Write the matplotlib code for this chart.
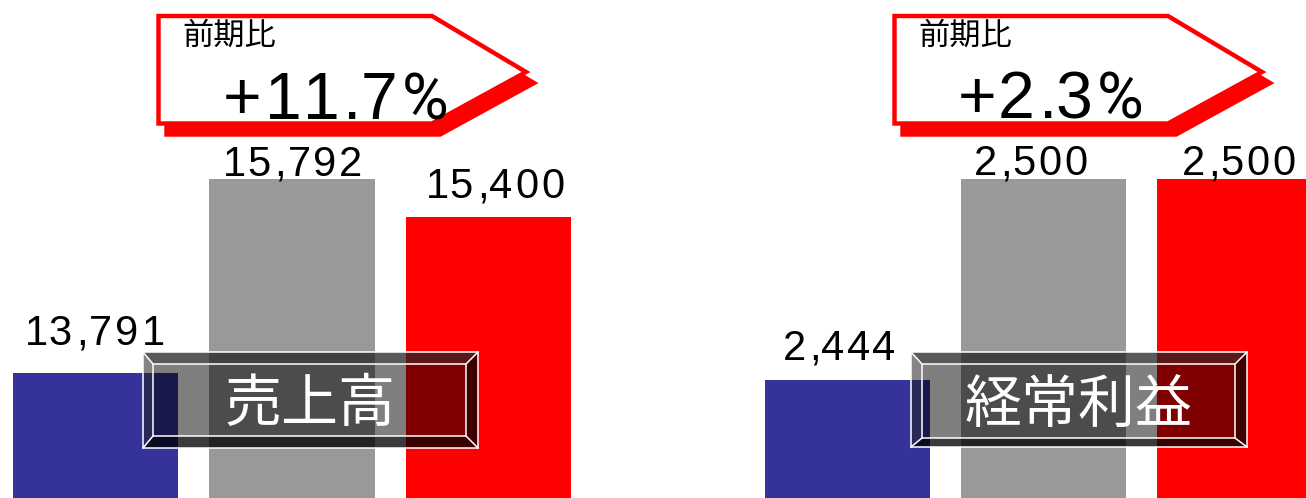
import matplotlib
matplotlib.use("Agg")
import matplotlib.pyplot as plt
from matplotlib.patches import Polygon
from matplotlib.font_manager import FontProperties, findfont
from matplotlib.ft2font import FT2Font

# data
periods = ["prev", "plan", "forecast"]
sales = [13791, 15792, 15400]
profit = [2444, 2500, 2500]
sales_labels = ["13,791", "15,792", "15,400"]
profit_labels = ["2,444", "2,500", "2,500"]
titles = ["売上高", "経常利益"]
growth = ["+11.7", "+2.3"]
bar_colors = ["#333399", "#999999", "#ff0000"]

W, H = 1306, 498
fig = plt.figure(figsize=(W / 100, H / 100), dpi=100)

num_font = "Liberation Sans"
jp_font = ["Noto Sans CJK JP", "DejaVu Sans"]
pct_font = ["Roboto", "Liberation Sans"]

# glyph advances so the numbers can be spaced out like the original
_ft = FT2Font(findfont(FontProperties(family=num_font)), hinting_factor=1)
_ft.set_size(100, 72)
_cache = {}


def metrics(c):
    if c not in _cache:
        g = _ft.load_char(ord(c))
        _cache[c] = (g.linearHoriAdvance / 65536 / 100, g.horiBearingX / 64 / 100)
    return _cache[c]


# sanity check: a digit in Arial-like fonts is ~0.556 em
_d = metrics("0")[0]
_scale = 0.556 / _d if not (0.45 < _d < 0.65) else 1.0


def tracked(ax, x, y, s, size, track, **kw):
    em = size / 72 * 100
    for c in s:
        adv, lsb = metrics(c)
        ax.text(x + lsb * _scale * em, y, c, fontsize=size, family=num_font,
                ha="left", va="baseline", **kw)
        x += adv * _scale * em + track


def tracked_width(s, size, track):
    em = size / 72 * 100
    return sum(metrics(c)[0] for c in s) * _scale * em + track * (len(s) - 1)


def panel(rect, vals, ylim, xlim):
    ax = fig.add_axes(rect)
    ax.bar(range(len(vals)), vals, width=0.84, color=bar_colors, zorder=2)
    ax.set_ylim(*ylim)
    ax.set_xlim(*xlim)
    ax.axis("off")
    return ax


ax1 = panel([0, 0, 0.5, 1], sales, (12500, 17637),
            (-95.5 / 196.5, (653 - 95.5) / 196.5))
ax2 = panel([0.5, 0, 0.5, 1], profit, (2411, 2550),
            (-194.5 / 196, (653 - 194.5) / 196))

# overlay in pixel coordinates
ov = fig.add_axes([0, 0, 1, 1])
ov.set_xlim(0, W)
ov.set_ylim(H, 0)
ov.axis("off")
ov.patch.set_alpha(0)

# value labels, nudges in pixels (dx, gap above bar)
sales_off = [(-4, 28), (-2, 3), (4, 19)]
profit_off = [(-10, 20), (-15, 4), (-3, 4)]
for ax, vals, labels, offs in [(ax1, sales, sales_labels, sales_off),
                               (ax2, profit, profit_labels, profit_off)]:
    for i, v in enumerate(vals):
        px, py = ax.transData.transform((i, v))
        dx, dy = offs[i]
        w = tracked_width(labels[i], 30, 2.5)
        tracked(ov, px + dx - w / 2, H - py - dy, labels[i], 30, 2.5,
                color="black", zorder=3)


def callout(x0, txt_big, big_x, big_base, pct_x):
    pts = [(x0, 16), (x0 + 273.5, 16), (x0 + 367.5, 72),
           (x0 + 273.5, 123.5), (x0, 123.5)]
    shadow = [(px + 8, py + 11) for px, py in pts]
    ov.add_patch(Polygon(shadow, closed=True, facecolor="red", edgecolor="red",
                         linewidth=3.2, joinstyle="miter", zorder=4))
    ov.add_patch(Polygon(pts, closed=True, facecolor="white", edgecolor="red",
                         linewidth=3.2, joinstyle="miter", zorder=5))
    ov.text(x0 + 23.5, 36, "前期比", family=jp_font, fontsize=22.5,
            ha="left", va="center", color="black", zorder=6)
    tracked(ov, big_x, big_base, txt_big, 47.5, 2, color="black", zorder=6)
    ov.text(pct_x, big_base, "%", family=pct_font, fontsize=46,
            ha="left", va="baseline", color="black", zorder=6)


callout(158.5, growth[0], 219, 119, 402)
callout(894.5, growth[1], 954, 118, 1097)


def plate(outer, inner, label):
    x0, y0, x1, y1 = outer
    a0, b0, a1, b1 = inner
    bands = [
        ([(a0, b0), (a1, b0), (a1, b1), (a0, b1)], (0, 0, 0), 0.5),
        ([(x0, y0), (x1, y0), (a1, b0), (a0, b0)], (0.13, 0.13, 0.13), 0.74),
        ([(x0, y0), (a0, b0), (a0, b1), (x0, y1)], (0.13, 0.13, 0.13), 0.55),
        ([(x0, y1), (a0, b1), (a1, b1), (x1, y1)], (0, 0, 0), 0.77),
        ([(x1, y0), (x1, y1), (a1, b1), (a1, b0)], (0, 0, 0), 0.75),
    ]
    for poly, c, a in bands:
        ov.add_patch(Polygon(poly, closed=True, facecolor=c, alpha=a,
                             edgecolor="none", zorder=7))
    lw = 1.1
    ov.add_patch(Polygon([(x0, y0), (x1, y0), (x1, y1), (x0, y1)], closed=True,
                         fill=False, edgecolor="white", linewidth=lw, zorder=8))
    ov.add_patch(Polygon([(a0, b0), (a1, b0), (a1, b1), (a0, b1)], closed=True,
                         fill=False, edgecolor="white", linewidth=lw, zorder=8))
    for (p, q) in [((x0, y0), (a0, b0)), ((x1, y0), (a1, b0)),
                   ((x1, y1), (a1, b1)), ((x0, y1), (a0, b1))]:
        ov.plot([p[0], q[0]], [p[1], q[1]], color="white", lw=lw, zorder=8)
    ov.text((a0 + a1) / 2, (b0 + b1) / 2 + 5, label, family=jp_font,
            fontsize=41, color="white", ha="center", va="center", zorder=9)


plate((143, 352, 478, 448), (153, 364, 466, 436), titles[0])
plate((911, 352, 1247, 447), (922, 364, 1235, 438), titles[1])

fig.savefig("out.png", dpi=100)
